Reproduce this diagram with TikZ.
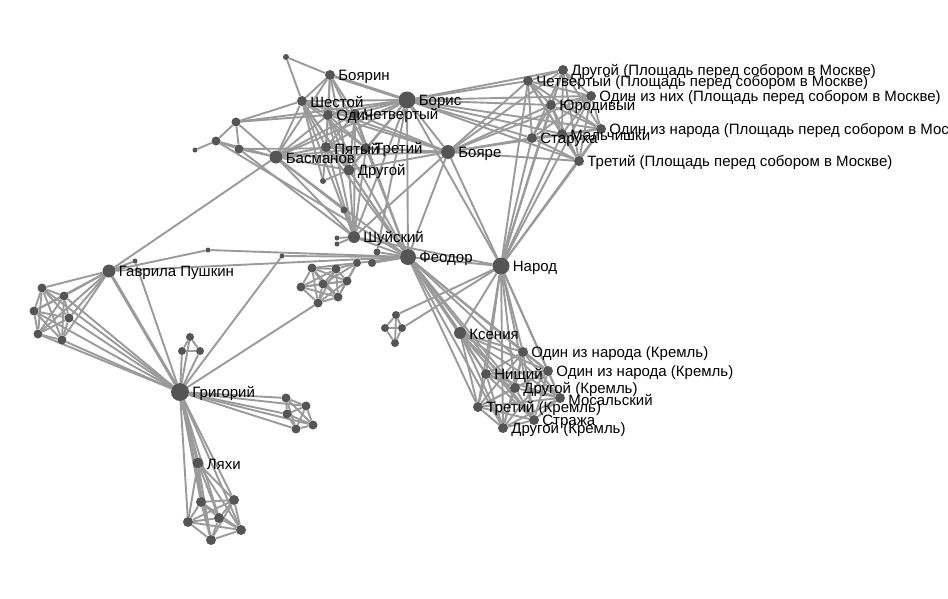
\documentclass[tikz,border=0pt]{standalone}
\usepackage{fontspec}
\setmainfont{Liberation Sans}
\usetikzlibrary{backgrounds}

\definecolor{linkgray}{HTML}{9A9A9A}
\definecolor{dotgray}{HTML}{555555}

\begin{document}
\begin{tikzpicture}[x=1pt,y=-1pt,label distance=3pt,
		person/.style={circle,fill=dotgray,inner sep=0pt,minimum size=#1},
		person/.default=10pt,
		extra/.style={circle,fill=dotgray,inner sep=0pt,minimum size=#1},
		extra/.default=6pt,
		link/.style={draw=linkgray,line width=1.9pt},
		heavy/.style={draw=linkgray,line width=3pt},
		every label/.style={font=\fontsize{15}{15}\selectfont,inner sep=0pt,text=black,yshift=-1.5pt}]
		
		\useasboundingbox (0,0) rectangle (948,598);
		
		% Boris and the boyars
		\node[person=17pt,label=right:Борис] (bor) at (407,100) {};
		\node[person,label=right:Боярин] (boyarin) at (330,75) {};
		\node[person,label=right:Шестой] (shest) at (302,101) {};
		\node[person,label=right:Четвертый] (chetv) at (355,114) {};
		\node[person,label=right:Один] (odin) at (328,115) {};
		\node[person,label=right:Третий] (tret) at (366,148) {};
		\node[person,label=right:Пятый] (pyat) at (326,147) {};
		\node[person=13pt,label=right:Басманов] (basm) at (276,157) {};
		\node[person=11pt,label=right:Другой] (drug) at (349,170) {};
		\node[person=14pt,label=right:Бояре] (boyare) at (448,152) {};
		\node[person=12pt,label=right:Шуйский] (shuy) at (354,237) {};
		\node[person=16pt,label=right:Феодор] (feod) at (408,257) {};
		\node[person=17pt,label=right:Народ] (narod) at (501,266) {};
		
		% unnamed ones round them
		\node[extra] (u1) at (286,57) {};
		\node[extra=9pt] (l1) at (236,122) {};
		\node[extra=9pt] (l2) at (216,141) {};
		\node[extra=9pt] (l3) at (239,149) {};
		\node[extra=5pt] (l4) at (195,150) {};
		\node[extra] (u2) at (323,181) {};
		\node[extra=7pt] (u3) at (344,210) {};
		\node[extra=5pt] (u4) at (337,238) {};
		\node[extra=5pt] (u5) at (337,244) {};
		\node[extra=7pt] (u6) at (377,252) {};
		\node[extra=8pt] (u7) at (357,263) {};
		\node[extra=8pt] (u8) at (372,263) {};
		
		% square before the cathedral
		\node[person,label=right:Другой (Площадь перед собором в Москве)] (pdrug) at (563,70) {};
		\node[person,label=right:Четвертый (Площадь перед собором в Москве)] (pchetv) at (528,81) {};
		\node[person,label=right:Один из них (Площадь перед собором в Москве)] (podin) at (591,96) {};
		\node[person,label=right:Юродивый] (yurod) at (551,105) {};
		\node[person,label=right:Один из народа (Площадь перед собором в Москве)] (pnarod) at (601,129) {};
		\node[person,label=right:Мальчишки] (malch) at (562,134) {};
		\node[person,label=right:Старуха] (star) at (532,138) {};
		\node[person,label=right:Третий (Площадь перед собором в Москве)] (ptret) at (579,161) {};
		
		% Gavrila, Grigoriy and their groups
		\node[person=13pt,label=right:Гаврила Пушкин] (gavr) at (109,271) {};
		\node[extra=5pt] (v1) at (135,261) {};
		\node[extra=5pt] (v2) at (208,250) {};
		\node[extra=5pt] (v3) at (282,256) {};
		\node[extra=9pt] (g1) at (42,288) {};
		\node[extra=9pt] (g2) at (64,296) {};
		\node[extra=9pt] (g3) at (34,311) {};
		\node[extra=9pt] (g4) at (69,318) {};
		\node[extra=9pt] (g5) at (38,334) {};
		\node[extra=9pt] (g6) at (62,340) {};
		\node[extra=9pt] (c1) at (312,268) {};
		\node[extra=9pt] (c2) at (336,269) {};
		\node[extra=9pt] (c3) at (347,281) {};
		\node[extra=9pt] (c4) at (323,284) {};
		\node[extra=9pt] (c5) at (301,287) {};
		\node[extra=9pt] (c6) at (338,297) {};
		\node[extra=9pt] (c7) at (318,303) {};
		\node[person=18pt,label=right:Григорий] (grig) at (180,392) {};
		\node[extra=8pt] (t1) at (190,337) {};
		\node[extra=8pt] (t2) at (182,351) {};
		\node[extra=8pt] (t3) at (200,351) {};
		\node[extra=9pt] (r1) at (286,398) {};
		\node[extra=9pt] (r2) at (306,406) {};
		\node[extra=9pt] (r3) at (287,414) {};
		\node[extra=9pt] (r4) at (313,425) {};
		\node[extra=9pt] (r5) at (296,429) {};
		\node[person=11pt,label=right:Ляхи] (lyakhi) at (198,463) {};
		\node[extra=10pt] (b1) at (201,502) {};
		\node[extra=10pt] (b2) at (234,500) {};
		\node[extra=10pt] (b3) at (219,518) {};
		\node[extra=10pt] (b4) at (188,522) {};
		\node[extra=10pt] (b5) at (241,530) {};
		\node[extra=10pt] (b6) at (211,540) {};
		
		% Kremlin
		\node[extra=8pt] (s1) at (396,315) {};
		\node[extra=8pt] (s2) at (385,328) {};
		\node[extra=8pt] (s3) at (402,328) {};
		\node[extra=8pt] (s4) at (395,343) {};
		\node[person=12pt,label=right:Ксения] (ksen) at (460,333) {};
		\node[person,label=right:Один из народа (Кремль)] (kon1) at (523,352) {};
		\node[person,label=right:Один из народа (Кремль)] (kon2) at (548,371) {};
		\node[person,label=right:Нищий] (nish) at (486,374) {};
		\node[person,label=right:Другой (Кремль)] (kdr1) at (515,388) {};
		\node[person,label=right:Мосальский] (mos) at (560,398) {};
		\node[person,label=right:Третий (Кремль)] (ktr) at (478,407) {};
		\node[person,label=right:Стража] (strazh) at (534,420) {};
		\node[person,label=right:Другой (Кремль)] (kdr2) at (503,428) {};
		
		% every pair in a list, and one to many
		\newcommand{\clique}[1]{%
			\foreach \a [count=\i] in {#1}{%
				\foreach \b [count=\j] in {#1}{%
					\ifnum\j>\i \draw[link] (\a) -- (\b);\fi}}}
		\newcommand{\fan}[2]{%
			\foreach \b in {#2} \draw[link] (#1) -- (\b);}
		
		\begin{scope}[on background layer]
			\fill[white] (0,0) rectangle (948,598);
			
			% groups
			\clique{bor,boyarin,shest,odin,chetv,pyat,tret,basm,drug}
			\clique{pdrug,pchetv,podin,yurod,pnarod,malch,star,ptret}
			\clique{ksen,kon1,kon2,nish,kdr1,mos,ktr,strazh,kdr2}
			\clique{g1,g2,g3,g4,g5,g6}
			\clique{c1,c2,c3,c4,c5,c6,c7}
			\clique{t1,t2,t3}
			\clique{r1,r2,r3,r4,r5}
			\clique{b1,b2,b3,b4,b5,b6}
			\clique{s1,s2,s3,s4}
			\clique{l1,l2,l3}
			
			% hubs
			\fan{bor}{boyare,shuy,feod,narod,u6,l1,pdrug,pchetv,podin,yurod,pnarod,malch,star,ptret}
			\fan{boyare}{shest,odin,chetv,pyat,tret,basm,drug,shuy,feod,narod,pdrug,pchetv,podin,yurod,pnarod,malch,star,ptret}
			\fan{narod}{feod,shuy,pdrug,pchetv,podin,yurod,pnarod,malch,star,ptret,ksen,kon1,kon2,nish,kdr1,mos,ktr,strazh,kdr2,s1,s3}
			\fan{feod}{shest,odin,chetv,pyat,tret,basm,drug,shuy,u6,u7,u8,v2,v3,kon1,kon2,nish,kdr1,mos,ktr,strazh,kdr2}
			\fan{shuy}{shest,odin,chetv,pyat,tret,basm,drug,u3,u4,u5}
			\fan{l1}{shest,odin,basm}
			\fan{l2}{l4,basm,feod}
			\fan{l3}{basm,shuy,tret}
			\fan{u1}{boyarin,shest}
			\fan{u2}{shest,pyat,drug}
			\fan{u3}{basm}
			\fan{u7}{c1,c2,c3,c4,c6}
			\fan{gavr}{basm,v1,v2,feod,g1,g2,g3,g4,g5,g6}
			\fan{grig}{v1,v3,c7,g1,g2,g3,g4,g5,g6,t1,t2,t3,r1,r2,r3,r4,r5,lyakhi,b1,b2,b3,b4,b5,b6}
			\fan{lyakhi}{b1,b2,b3,b4,b5,b6}
			
			% heavier ones
			\draw[heavy] (grig) -- (gavr);
			\draw[heavy] (feod) -- (ksen);
			\draw[heavy] (bor) -- (boyarin);
			\draw[heavy] (grig) -- (lyakhi);
		\end{scope}
		
	\end{tikzpicture}
\end{document}
